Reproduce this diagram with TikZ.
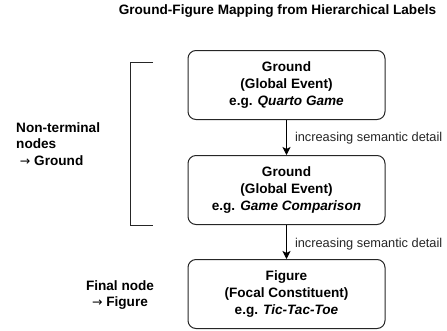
\documentclass[tikz,border=0pt]{standalone}
\usepackage{fontspec}
\setmainfont{Liberation Sans}
\newfontfamily\arrowfont{DejaVu Sans}
\newcommand{\rarr}{{\arrowfont\fontsize{12.5}{12.5}\selectfont\mdseries →}}
\usetikzlibrary{arrows.meta}
\begin{document}
\begin{tikzpicture}[x=1pt,y=-1pt,
  box/.style={draw=black!85, line width=1pt, rounded corners=8pt, minimum width=197pt, minimum height=69pt, inner sep=0pt, align=center, font=\fontsize{13.6}{17}\selectfont\bfseries},
  flow/.style={draw=black, line width=1pt, -{Stealth[length=8pt,width=8pt,inset=2pt]}},
  note/.style={font=\fontsize{12.8}{15}\selectfont, text=black!85, anchor=west, inner sep=0pt},
  side/.style={font=\fontsize{13.6}{16.5}\selectfont\bfseries, inner sep=0pt}]
\useasboundingbox (0,0) rectangle (447,330);
\node[font=\fontsize{13.6}{16}\selectfont\bfseries] (title) at (277.5,11) {Ground-Figure Mapping from Hierarchical Labels};
\node[box] (g1) at (286.5,85) {Ground\\(Global Event)\\e.g. \textit{Quarto Game}};
\node[box] (g2) at (286.5,190) {Ground\\(Global Event)\\e.g. \textit{Game Comparison}};
\node[box] (f) at (286.5,294) {Figure\\(Focal Constituent)\\e.g. \textit{Tic-Tac-Toe}};
\draw[flow] (g1) -- (g2) node[midway, note, xshift=8pt, yshift=-1pt] (l1) {increasing semantic detail};
\draw[flow] (g2) -- (f) node[midway, note, xshift=8pt, yshift=-2pt] (l2) {increasing semantic detail};
\coordinate (bt) at (153,62);
\coordinate (bb) at (153,225);
\draw[line width=1pt, black!85] (bt) -- (130,62) -- (130,225) -- (bb);
\node[side, anchor=west, align=left] (nt) at (16,144) {Non-terminal\\nodes\\\ \rarr\ Ground};
\node[side, align=center] (fn) at (120,295) {Final node\\\rarr\ Figure};
\end{tikzpicture}
\end{document}
